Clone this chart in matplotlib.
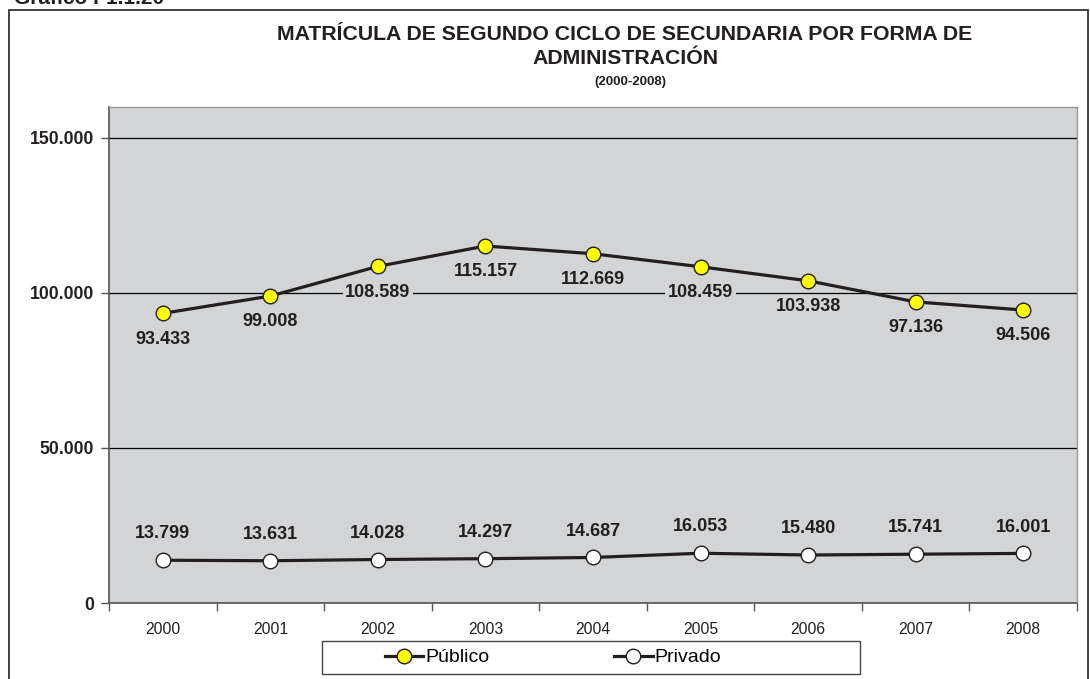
import numpy as np
import matplotlib
matplotlib.use("Agg")
import matplotlib.pyplot as plt
from matplotlib.patches import Rectangle
from matplotlib.ticker import FuncFormatter, FixedLocator

plt.rcParams['font.family'] = ['Liberation Sans', 'DejaVu Sans']

# ---- data ----
years = ["2000", "2001", "2002", "2003", "2004", "2005", "2006", "2007", "2008"]
publico = [93433, 99008, 108589, 115157, 112669, 108459, 103938, 97136, 94506]
privado = [13799, 13631, 14028, 14297, 14687, 16053, 15480, 15741, 16001]
y_ticks = [0, 50000, 100000, 150000]

bg = '#d3d4d6'
ink = '#231f20'

def miles(v):
    # thousands separated with a dot
    return f"{int(round(v)):,}".replace(",", ".")

fig = plt.figure(figsize=(10.9, 6.79), dpi=100)
W, H = 1090, 679
ax = fig.add_axes([109 / W, 1 - 603 / H, (1077 - 109) / W, (603 - 107) / H])
ax.set_facecolor(bg)

x = np.arange(len(years))
ax.plot(x, publico, color=ink, lw=2.3, marker='o', ms=10.5,
        mfc='#ffff00', mec=ink, mew=1.0, label='Público', zorder=4)
ax.plot(x, privado, color=ink, lw=2.3, marker='o', ms=10.5,
        mfc='white', mec=ink, mew=1.0, label='Privado', zorder=4)

box = dict(boxstyle='square,pad=0.15', fc=bg, ec='none')
for xi, v in zip(x, publico):
    ax.annotate(miles(v), (xi, v), xytext=(0, -18.5), textcoords='offset points',
                ha='center', va='center', fontsize=13, fontweight='bold',
                color=ink, bbox=box, zorder=3)
for xi, v in zip(x, privado):
    ax.annotate(miles(v), (xi, v), xytext=(0, 19), textcoords='offset points',
                ha='center', va='center', fontsize=13, fontweight='bold',
                color=ink, bbox=box, zorder=3)

ax.set_xlim(-0.5, len(years) - 0.5)
ax.set_ylim(0, 160000)
ax.set_yticks(y_ticks)
ax.yaxis.set_major_formatter(FuncFormatter(lambda v, p: miles(v)))
ax.grid(axis='y', color='black', lw=0.9, zorder=1)
ax.set_axisbelow(True)

ax.set_xticks(x)
ax.set_xticklabels(years)
ax.xaxis.set_minor_locator(FixedLocator(np.arange(-0.5, len(years), 1.0)))
ax.tick_params(axis='x', which='major', length=0, pad=14, labelsize=11.3, colors=ink)
ax.tick_params(axis='x', which='minor', length=6, width=1, color='#555555', direction='out')
ax.tick_params(axis='y', length=6, width=1, color='#555555', direction='out', labelsize=12.7, pad=5)
for lab in ax.get_yticklabels():
    lab.set_fontweight('bold')
    lab.set_color(ink)

for side in ['top', 'right']:
    ax.spines[side].set_color('#999999')
    ax.spines[side].set_linewidth(1.0)
for side in ['left', 'bottom']:
    ax.spines[side].set_color('#555555')
    ax.spines[side].set_linewidth(1.2)

# legend entries without frame, box drawn separately
leg = fig.legend(loc='center', bbox_to_anchor=(553 / W, 1 - 657.5 / H), ncol=2,
                 fontsize=14, frameon=False,
                 handlelength=2.0, handletextpad=0.1, columnspacing=6.4)
fig.patches.append(Rectangle((322 / W, 1 - 674 / H), (860 - 322) / W, 33 / H,
                             transform=fig.transFigure, fill=False,
                             ec='#444444', lw=1.0))

# titles
fig.text(625 / W, 1 - 35 / H, "MATRÍCULA DE SEGUNDO CICLO DE SECUNDARIA POR FORMA DE",
         ha='center', va='center', fontsize=15.3, fontweight='bold', color=ink)
fig.text(625 / W, 1 - 59 / H, "ADMINISTRACIÓN",
         ha='center', va='center', fontsize=15.3, fontweight='bold', color=ink)
fig.text(630 / W, 1 - 82 / H, "(2000-2008)",
         ha='center', va='center', fontsize=9.5, fontweight='bold', color=ink)
fig.text(14 / W, 1 - (-1) / H, "Gráfico I-1.1.20", ha='left', va='center',
         fontsize=15, fontweight='bold', color=ink)

# outer frame
fig.patches.append(Rectangle((9 / W, -0.05), (1088 - 9) / W, 1.05 - 10 / H,
                             transform=fig.transFigure, fill=False,
                             ec='#333333', lw=1.3))

fig.savefig("out.png", dpi=100)
